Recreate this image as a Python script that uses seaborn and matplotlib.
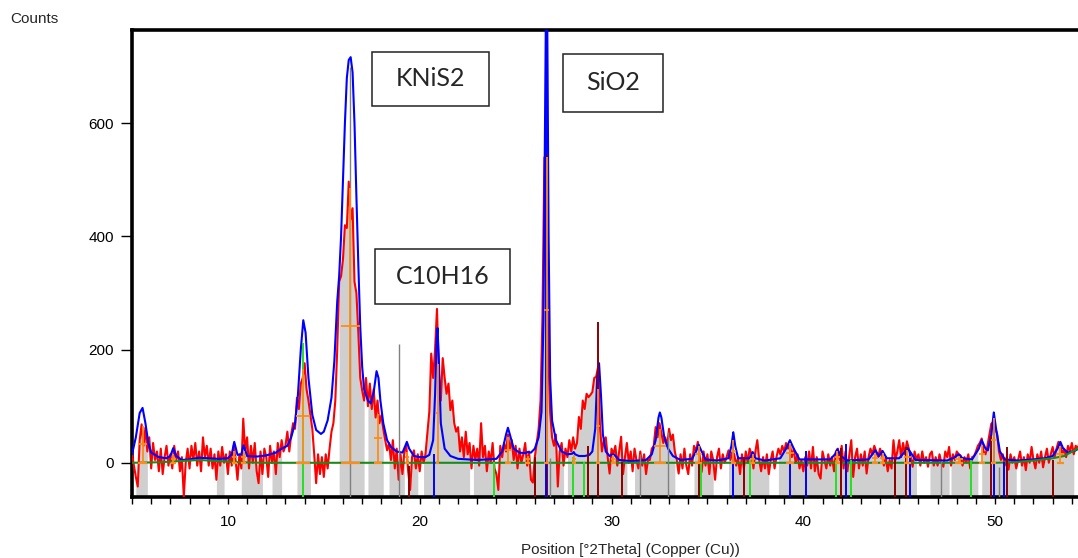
import numpy as np
import pandas as pd
import matplotlib
matplotlib.use("Agg")
import matplotlib.pyplot as plt
from matplotlib.patches import Rectangle
from matplotlib.ticker import MultipleLocator
import seaborn as sns

# ---------------- data ----------------
x_start, x_step = 5.0, 0.1
observed = [
    15, -5, -25, -42, 40, 68, 30, 62, 20, 45,
    -10, 35, 5, 20, -15, 25, -20, 10, 30, -5,
    15, -10, 30, 5, 20, -15, 10, -60, 0, 25,
    -10, 30, 5, 35, -5, 20, -15, 45, 10, 30,
    -5, 25, -10, 15, -30, 20, -5, 28, 0, 15,
    -20, 20, -5, 30, 5, -30, 15, -10, 78, 20,
    45, -10, 30, 0, 35, -15, -36, 20, -20, 25,
    10, -25, 30, 0, 20, -20, 35, 10, 40, 20,
    30, 55, 20, 50, 70, 60, 115, 95, 140, 150,
    176, 130, 110, 85, 60, 15, -36, 15, -20, 10,
    -25, 15, -10, 25, 55, 70, 110, 200, 320, 330,
    360, 420, 415, 497, 430, 450, 320, 300, 230, 150,
    128, 110, 150, 100, 140, 95, 130, 80, 110, 70,
    84, 60, 40, 22, 35, 5, 40, -10, 25, -30,
    15, -20, 20, 30, -15, -48, 10, 22, -10, 15,
    -15, 20, 0, 15, 52, 90, 193, 150, 200, 272,
    158, 110, 185, 150, 122, 140, 93, 110, 70, 55,
    63, 20, 45, 10, 55, 15, 35, -10, 30, 5,
    25, -5, 70, 10, 30, -15, 20, 0, 35, -10,
    -20, -48, 30, 10, 35, 20, 50, 25, 40, 5,
    30, -10, 25, 0, 15, 35, -5, 20, -30, -35,
    10, 35, 60, 110, 260, 540, 470, 200, 90, 45,
    30, 50, -42, 20, 35, -5, 25, 10, 40, 20,
    45, 25, 35, 81, 60, 110, 95, 122, 116, 120,
    125, 150, 152, 170, 63, 20, 40, 45, 10, -19,
    25, 15, 30, -5, 20, 46, -20, 10, 35, 0,
    20, -15, 25, 5, -10, 20, -5, 15, -20, 5,
    5, 25, 30, 63, 45, 70, 52, 35, 45, 30,
    60, 40, 50, 20, 5, -19, 15, -10, 25, -5,
    -20, 15, -5, 30, 20, 37, 10, -16, 20, -5,
    15, -20, 20, 5, -30, 10, 25, -10, 15, 0,
    10, 22, 5, 20, 15, -5, 10, -20, 15, -10,
    20, 0, 25, 15, -10, 20, 40, 5, -15, 10,
    -10, 15, -20, 5, 20, -10, 10, 25, 15, 30,
    20, 35, 25, 34, 10, 25, 0, 15, -10, 5,
    -15, 10, -5, 20, -10, 28, -15, 10, -20, -28,
    20, 5, -10, 15, -5, 10, -15, 20, 25, 5,
    30, -10, 20, -15, 15, 40, -25, 10, 25, -10,
    15, -5, 20, -19, 10, 25, 15, 30, 20, 10,
    25, 15, -5, 10, -15, 5, -10, 40, 5, 20,
    40, 10, 35, 15, 38, 25, 10, -7, 20, 5,
    15, -5, 20, 0, 10, -7, 15, 20, -5, 10,
    -5, 15, 0, -7, 20, 10, 28, -5, 15, 5,
    20, 15, 13, -5, 10, 0, 15, -10, 10, 12,
    20, 30, 35, 43, 20, 15, 30, 50, 69, 72,
    60, 52, 20, 5, 15, -5, 10, -12, 15, 0,
    10, -10, 5, 20, -5, 10, -13, 15, 0, 28,
    5, -10, 15, 0, 20, -8, 10, 25, 0, 15,
    28, 10, 25, 37, 30, 15, 25, 10, 30, 20,
    35, 15, 30, 25, 35, 30, 40, 35, 45, 40,
    50,
]

calc_x = [5.0, 5.2, 5.4, 5.55, 5.7, 5.85, 6.0, 6.4, 6.8, 7.0, 7.15, 7.3, 7.6, 8.0, 8.5,
          9.0, 9.5, 10.0, 10.2, 10.33, 10.5, 10.7, 10.82, 11.0, 11.5, 12.0, 12.5, 12.8,
          13.1, 13.3, 13.5, 13.65, 13.8, 13.93, 14.05, 14.2, 14.4, 14.6, 14.85, 15.0,
          15.2, 15.4, 15.55, 15.7, 15.8, 15.9, 16.0, 16.1, 16.2, 16.3, 16.4, 16.5, 16.6,
          16.7, 16.8, 16.9, 17.0, 17.1, 17.3, 17.45, 17.6, 17.75, 17.85, 17.95, 18.1,
          18.3, 18.5, 18.8, 19.1, 19.25, 19.33, 19.45, 19.7, 20.0, 20.3, 20.5, 20.7,
          20.8, 20.88, 20.93, 21.0, 21.1, 21.3, 21.6, 22.0, 23.0, 24.0, 24.3, 24.5,
          24.6, 24.7, 24.9, 25.2, 25.5, 25.63, 25.8, 26.0, 26.2, 26.35, 26.45, 26.53,
          26.58, 26.65, 26.72, 26.8, 26.9, 27.1, 27.4, 27.7, 27.95, 28.03, 28.1, 28.3,
          28.6, 28.85, 29.0, 29.15, 29.25, 29.35, 29.45, 29.55, 29.7, 29.9, 30.05,
          30.15, 30.4, 31.0, 31.8, 32.1, 32.3, 32.45, 32.52, 32.6, 32.75, 32.95, 33.2,
          33.6, 34.2, 34.4, 34.54, 34.7, 34.9, 35.5, 36.1, 36.25, 36.35, 36.45, 36.6,
          37.2, 37.36, 37.5, 38.0, 38.8, 39.1, 39.3, 39.5, 39.8, 41.4, 41.65, 41.78,
          41.95, 42.3, 43.4, 43.6, 43.75, 43.95, 44.13, 44.35, 45.0, 45.25, 45.43,
          45.6, 45.85, 47.5, 47.9, 48.1, 48.3, 48.8, 49.15, 49.3, 49.5, 49.62, 49.8,
          49.93, 50.05, 50.25, 50.5, 51.2, 52.0, 52.6, 53.0, 53.25, 53.4, 53.55, 53.8,
          54.2, 54.5, 55.0]
calc_y = [15, 45, 88, 97, 70, 35, 18, 10, 8, 12, 26, 12, 5, 6, 9,
          8, 7, 8, 15, 37, 14, 15, 31, 12, 11, 13, 18, 25,
          30, 45, 70, 120, 200, 252, 230, 150, 85, 58, 51, 55,
          75, 115, 180, 285, 330, 400, 500, 600, 680, 712, 717, 690, 600,
          470, 350, 240, 170, 130, 110, 105, 125, 162, 150, 110, 70,
          40, 28, 20, 18, 30, 37, 25, 12, 10, 10, 14, 40,
          120, 220, 238, 180, 70, 25, 12, 7, 5, 7, 20, 50,
          62, 50, 25, 18, 17, 19, 18, 25, 45, 90, 250, 600,
          800, 780, 400, 150, 75, 40, 20, 15, 16, 19, 15, 12,
          12, 14, 20, 60, 150, 176, 120, 50, 20, 12, 15,
          14, 5, 3, 5, 15, 40, 80, 89, 80, 45, 25, 12,
          5, 7, 20, 32, 20, 6, 4, 8, 30, 54, 30, 8,
          8, 19, 8, 4, 8, 25, 40, 25, 6, 6, 15, 24,
          12, 4, 6, 15, 22, 12, 21, 8, 8, 18, 26,
          18, 5, 4, 10, 15, 8, 6, 25, 40, 25, 22, 50,
          89, 60, 20, 6, 4, 6, 8, 12, 25, 37, 25, 18,
          22, 28, 40]

base_x = [5, 6.5, 7.5, 8.5, 9.5, 10.5, 12, 50, 51, 52, 53, 53.6, 54.3, 55]
base_y = [0, 1, 3, 5, 3, 1, 0, 0, 1, 4, 8, 12, 25, 38]

# reference-pattern sticks per phase
blue_pos = [20.76, 26.58, 36.35, 39.3, 40.12, 42.22, 45.57, 49.95, 50.47]
blue_h = [15, 770, 54, 40, 20, 34, 20, 89, 2]
lime_pos = [13.93, 23.85, 27.97, 28.54, 34.66, 37.23, 41.7, 42.48, 48.73]
lime_h = [211, 2, 10, 2, 2, 5, 5, 5, 5]
dred_pos = [19.45, 26.02, 26.62, 28.77, 29.27, 30.53, 34.54, 36.9, 41.98, 44.77,
            45.35, 49.78, 50.61, 53.0]
dred_h = [-5, 10, 545, 30, 248, 2, 5, 10, 26, 8, 28, 48, 28, 5]
gray_pos = [16.38, 18.9, 26.79, 31.48, 32.92, 47.2, 50.21]
gray_h = [700, 210, 8, 15, 55, 3, -7]

# peak list markers (position, height, FWHM)
pk_pos = [5.55, 7.15, 10.33, 10.82, 13.93, 16.38, 17.82, 19.33, 20.93, 24.6, 25.63,
          26.62, 28.03, 29.3, 30.1, 32.52, 34.54, 36.35, 37.36, 39.3, 41.78, 43.75,
          44.13, 45.43, 48.12, 49.3, 49.93, 53.4]
pk_h = [65, 15, 20, 20, 165, 485, 86, 19, 175, 45, 12, 540, 14, 130, 14, 60, 30,
        40, 15, 35, 20, 18, 18, 22, 12, 32, 80, 30]
pk_w = [0.5, 0.25, 0.25, 0.25, 0.72, 1.0, 0.45, 0.2, 0.18, 0.35, 0.25, 0.26, 0.2,
        0.25, 0.25, 0.6, 0.4, 0.25, 0.25, 0.45, 0.3, 0.3, 0.3, 0.4, 0.4, 0.3, 0.25, 0.35]

# gray (profile-fit) ranges
gray_ranges = [(5.2, 5.8), (9.4, 9.8), (10.7, 11.8), (12.3, 12.8), (13.6, 14.3),
               (15.8, 17.1), (17.3, 18.1), (18.4, 19.2), (19.4, 19.9), (20.2, 22.6),
               (22.8, 27.5), (27.7, 30.8), (31.2, 33.3), (34.3, 35.3), (36.1, 38.2),
               (38.7, 45.9), (46.6, 47.6), (47.7, 49.1), (49.3, 51.1), (51.3, 54.1)]

labels = ["KNiS2", "SiO2", "C10H16"]
x_title = "Position [°2Theta] (Copper (Cu))"
y_title = "Counts"
yticks = [0, 200, 400, 600]
xticks = [10, 20, 30, 40, 50]

# ---------------- drawing ----------------
sns.set_style("white")
plt.rcParams['font.family'] = ['Liberation Sans', 'DejaVu Sans']

W, H = 1078, 558
fig = plt.figure(figsize=(W / 100, H / 100), dpi=100)
left_px, right_px, top_px, bot_px = 132, 1129.4, 30, 497.3
ax = fig.add_axes([left_px / W, 1 - bot_px / H, (right_px - left_px) / W, (bot_px - top_px) / H])

ymin, ymax = -61, 765
xs = np.round(x_start + x_step * np.arange(len(observed)), 2)
obs = np.array(observed, dtype=float)
df_obs = pd.DataFrame({"x": xs, "y": obs})
df_calc = pd.DataFrame({"x": calc_x, "y": calc_y})
df_base = pd.DataFrame({"x": base_x, "y": base_y})

for a, b in gray_ranges:
    m = (xs >= a - 1e-9) & (xs <= b + 1e-9)
    ax.fill_between(xs[m], ymin, obs[m], color="#cfcfcf", lw=0, zorder=1)

sns.lineplot(data=df_obs, x="x", y="y", ax=ax, color="#ff0000", lw=1.5,
             estimator=None, sort=False, legend=False, zorder=3)
sns.lineplot(data=df_calc, x="x", y="y", ax=ax, color="#0000ff", lw=1.5,
             estimator=None, sort=False, legend=False, zorder=4)
sns.lineplot(data=df_base, x="x", y="y", ax=ax, color="#1a8a1a", lw=1.5,
             estimator=None, sort=False, legend=False, zorder=5)

ax.vlines(gray_pos, ymin, gray_h, color="#808080", lw=1.0, zorder=6)
ax.vlines(dred_pos, ymin, dred_h, color="#8b0000", lw=1.4, zorder=6)
ax.vlines(lime_pos, ymin, lime_h, color="#22e022", lw=1.4, zorder=6)
ax.vlines(blue_pos, ymin, blue_h, color="#0000ff", lw=1.4, zorder=6)

orange = "#ff8c1a"
pp = np.array(pk_pos); ph = np.array(pk_h); pw = np.array(pk_w)
ax.vlines(pp, 0, ph, color=orange, lw=1.3, zorder=7)
ax.hlines(ph / 2, pp - pw / 2, pp + pw / 2, color=orange, lw=1.3, zorder=7)
ax.hlines(np.zeros_like(ph), pp - pw / 2, pp + pw / 2, color=orange, lw=1.6, zorder=7)

ax.set_xlim(5, 57)
ax.set_ylim(ymin, ymax)
ax.set_xticks(xticks)
ax.xaxis.set_minor_locator(MultipleLocator(1))
ax.set_yticks(yticks)
ax.tick_params(axis="x", which="both", direction="out", length=5, width=1,
               labelsize=11, pad=8, bottom=True, colors="black")
ax.tick_params(axis="y", which="major", direction="out", length=8, width=1,
               labelsize=11, pad=5, left=True, colors="black")
for s in ax.spines.values():
    s.set_linewidth(2.6)
    s.set_color("black")
ax.set_xlabel(x_title, fontsize=11, labelpad=10)
ax.set_ylabel("")
fig.text(10 / W, 1 - 19 / H, y_title, fontsize=11, va="center", ha="left")

# annotation boxes (pixel rectangles)
boxes = [(372, 52, 489, 106), (563, 54, 663, 112), (375, 249, 510, 304)]
for lab, (x0, y0, x1, y1) in zip(labels, boxes):
    fig.add_artist(Rectangle((x0 / W, 1 - y1 / H), (x1 - x0) / W, (y1 - y0) / H,
                             transform=fig.transFigure, facecolor="white",
                             edgecolor="#222222", lw=1.1, zorder=10))
    fig.text((x0 + x1) / 2 / W, 1 - (y0 + y1) / 2 / H, lab, fontsize=18,
             family=["Lato", "DejaVu Sans"], ha="center", va="center", zorder=11)

fig.savefig("out.png", dpi=100)
